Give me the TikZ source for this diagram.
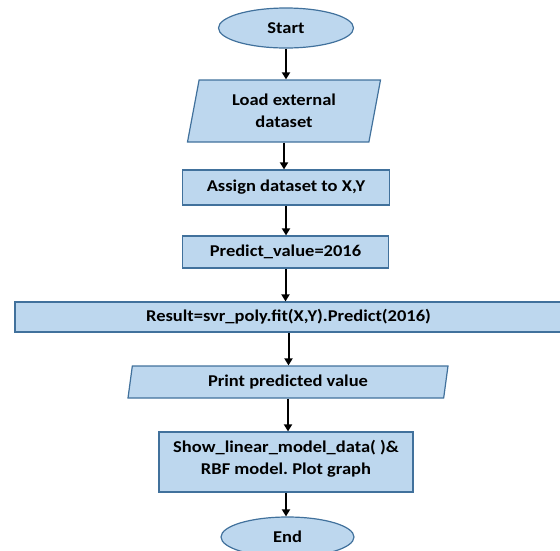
\documentclass[tikz,border=0pt]{standalone}
\usepackage{fontspec}
\setmainfont{Carlito}[FakeStretch=1.12]
\usepackage{tikz}
\usetikzlibrary{arrows.meta,shapes.geometric}
\usepackage{xcolor}

\definecolor{boxfill}{HTML}{BDD7EE}
\definecolor{boxline}{HTML}{41719C}

\begin{document}
\begin{tikzpicture}[x=1pt,y=-1pt]

    % --- Global Settings ---
    \tikzset{
        base/.style={draw=boxline, fill=boxfill, line width=1.2pt, inner sep=0pt,
            font=\fontsize{16.5}{22}\selectfont\bfseries, align=center},
        termbox/.style={base, ellipse},
        procbox/.style={base, rectangle},
        iobox/.style={base, trapezium, trapezium left angle=71, trapezium right angle=109,
            trapezium stretches body},
        arrowstyle/.style={-{Triangle[length=7pt,width=8pt]}, line width=2pt, black}
    }

    \useasboundingbox (0,0) rectangle (560,550);

    % --- Flowchart nodes ---
    \node[termbox, minimum width=135pt, minimum height=40pt] (start) at (286,28) {Start};
    \node[iobox, minimum width=193pt, minimum height=62pt] (load) at (284,111) {Load external\\dataset};
    \node[procbox, minimum width=207pt, minimum height=35pt] (assign) at (286,187.5) {Assign dataset to X,Y};
    \node[procbox, minimum width=206pt, minimum height=32pt] (predict) at (285.5,252) {Predict\_value=2016};
    \node[procbox, minimum width=547pt, minimum height=30pt] (result) at (288.5,317) {Result=svr\_poly.fit(X,Y).Predict(2016)};
    \node[iobox, trapezium left angle=73, trapezium right angle=107, minimum width=320pt, minimum height=32pt] (print) at (288,382) {Print predicted value};
    \node[procbox, minimum width=254pt, minimum height=60pt] (show) at (286,462) {Show\_linear\_model\_data( )\&\\RBF model.\ Plot graph\\[-12pt]};
    \node[termbox, minimum width=133pt, minimum height=40pt] (end) at (287.5,537) {End};

    % --- Connectors ---
    \foreach \a/\b in {start/load, load/assign, assign/predict, predict/result,
                       result/print, print/show, show/end} {
        \draw[arrowstyle] (\a.south) -- (\a.south |- \b.north);
    }

\end{tikzpicture}
\end{document}
